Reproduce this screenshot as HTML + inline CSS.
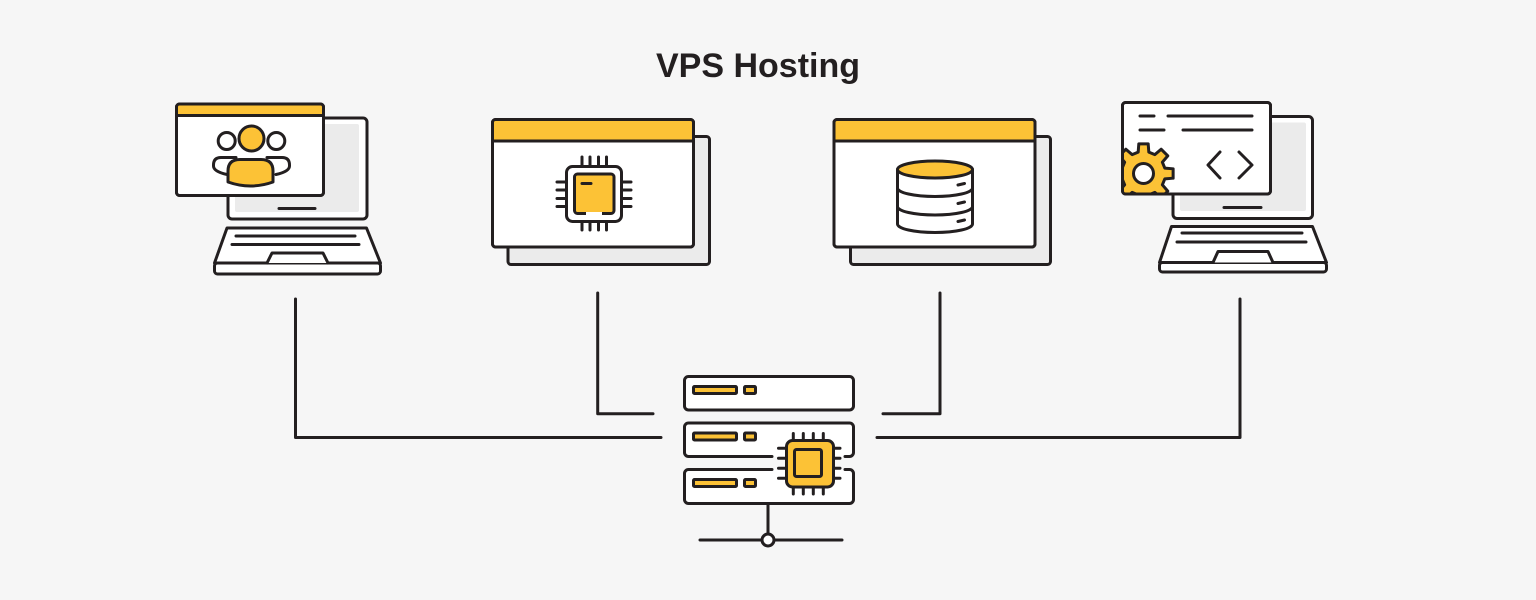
<!DOCTYPE html>
<html>
<head>
<meta charset="utf-8">
<style>
  html,body{margin:0;padding:0;background:#f6f6f6;}
  svg{display:block;}
</style>
</head>
<body>
<svg width="1536" height="600" viewBox="0 0 1536 600" xmlns="http://www.w3.org/2000/svg">
  <defs>
    <clipPath id="w4clip"><rect x="1122.5" y="102.5" width="148" height="91.5" rx="3"/></clipPath>
  </defs>
  <rect x="0" y="0" width="1536" height="600" fill="#f6f6f6"/>

  <text x="758" y="77" text-anchor="middle" font-family="Liberation Sans, Arial, sans-serif" font-weight="bold" font-size="34" fill="#231f20">VPS Hosting</text>

  <g fill="none" stroke="#231f20" stroke-width="3" stroke-linecap="round" stroke-linejoin="round">
    <!-- connectors -->
    <path d="M295.5,299 V437.5 H661"/>
    <path d="M597.7,293 V413.7 H653"/>
    <path d="M883,413.7 H940 V293"/>
    <path d="M877,437.5 H1240 V299"/>
  </g>

  <!-- ===== Laptop 1 ===== -->
  <g stroke="#231f20" stroke-width="3" stroke-linecap="round" stroke-linejoin="round">
    <rect x="228" y="118" width="139" height="101" rx="4" fill="#fff"/>
    <rect x="235" y="124" width="124" height="88" rx="2" fill="#ebebeb" stroke="none"/>
    <line x1="279" y1="208.5" x2="315" y2="208.5"/>
    <path d="M227,228 L366.5,228 L380.5,263 L214.5,263 Z" fill="#fff"/>
    <rect x="214.5" y="263" width="166" height="11" rx="3" fill="#fff"/>
    <line x1="236" y1="236" x2="355" y2="236"/>
    <line x1="232" y1="244.5" x2="359" y2="244.5"/>
    <path d="M267,263 L272,253 L323,253 L328,263" fill="#fff"/>
    <!-- window -->
    <rect x="176.5" y="104" width="147" height="91.5" rx="3" fill="#fff"/>
    <path d="M178,105.5 H322 V115.5 H178 Z" fill="#fcc236" stroke="none"/>
    <line x1="176.5" y1="115.5" x2="323.5" y2="115.5"/>
    <rect x="176.5" y="104" width="147" height="91.5" rx="3" fill="none"/>
    <!-- people -->
    <path d="M236,157.5 H221 Q213.5,157.5 213.5,165 V166 Q213.5,171.5 227,174.5" fill="#fff"/>
    <path d="M267,157.5 H282 Q289.5,157.5 289.5,165 V166 Q289.5,171.5 276,174.5" fill="#fff"/>
    <circle cx="226.7" cy="141" r="8.5" fill="#fff"/>
    <circle cx="276.3" cy="141" r="8.5" fill="#fff"/>
    <circle cx="251.5" cy="138.5" r="12.5" fill="#fcc236"/>
    <path d="M228,182 V171 Q228,159.5 240,159.5 H261 Q273,159.5 273,171 V182 Q250.5,190 228,182 Z" fill="#fcc236"/>
  </g>

  <!-- ===== Window 2 (chip) ===== -->
  <g stroke="#231f20" stroke-width="3" stroke-linecap="round" stroke-linejoin="round">
    <rect x="508" y="136.5" width="201.5" height="128" rx="3" fill="#ebebeb"/>
    <rect x="492.5" y="119.5" width="201" height="127.5" rx="3" fill="#fff"/>
    <path d="M494,121 H692 V141 H494 Z" fill="#fcc236" stroke="none"/>
    <line x1="492.5" y1="141" x2="693.5" y2="141"/>
    <rect x="492.5" y="119.5" width="201" height="127.5" rx="3" fill="none"/>
    <!-- pins -->
    <path d="M582,157 V165 M590,157 V165 M598.5,157 V165 M606.5,157 V165
             M582,223 V230 M590,223 V230 M598.5,223 V230 M606.5,223 V230
             M557,182 H565 M557,190 H565 M557,198.5 H565 M557,206.5 H565
             M623,182 H631 M623,190 H631 M623,198.5 H631 M623,206.5 H631" fill="none"/>
    <rect x="566.5" y="166.5" width="55" height="55" rx="6" fill="#fff"/>
    <rect x="574.5" y="174" width="39.5" height="39.5" rx="3" fill="#fcc236"/>
    <line x1="586" y1="213.5" x2="602" y2="213.5" stroke="#fff" stroke-linecap="butt"/>
    <line x1="582" y1="183.5" x2="591" y2="183.5"/>
  </g>

  <!-- ===== Window 3 (database) ===== -->
  <g stroke="#231f20" stroke-width="3" stroke-linecap="round" stroke-linejoin="round">
    <rect x="850.5" y="136.5" width="200" height="128" rx="3" fill="#ebebeb"/>
    <rect x="834" y="119.5" width="201" height="127.5" rx="3" fill="#fff"/>
    <path d="M835.5,121 H1033.5 V141 H835.5 Z" fill="#fcc236" stroke="none"/>
    <line x1="834" y1="141" x2="1035" y2="141"/>
    <rect x="834" y="119.5" width="201" height="127.5" rx="3" fill="none"/>
    <path d="M897.5,169.5 V224 A37.5,8.5 0 0 0 972.5,224 V169.5 Z" fill="#fff"/>
    <path d="M897.5,188 A37.5,8.5 0 0 0 972.5,188" fill="none"/>
    <path d="M897.5,206.5 A37.5,8.5 0 0 0 972.5,206.5" fill="none"/>
    <ellipse cx="935" cy="169.5" rx="37.5" ry="8.5" fill="#fcc236"/>
    <line x1="958" y1="185" x2="964.5" y2="183.5"/>
    <line x1="958" y1="203.5" x2="964.5" y2="202"/>
    <line x1="958" y1="221.5" x2="964.5" y2="220"/>
  </g>

  <!-- ===== Laptop 4 ===== -->
  <g stroke="#231f20" stroke-width="3" stroke-linecap="round" stroke-linejoin="round">
    <rect x="1173" y="116.5" width="139.5" height="102" rx="4" fill="#fff"/>
    <rect x="1180" y="122.5" width="126" height="88.5" rx="2" fill="#ebebeb" stroke="none"/>
    <line x1="1224" y1="207.5" x2="1261" y2="207.5"/>
    <path d="M1171.5,226.5 L1312.5,226.5 L1326.5,262.5 L1159.5,262.5 Z" fill="#fff"/>
    <rect x="1159.5" y="262.5" width="167" height="9.5" rx="3" fill="#fff"/>
    <line x1="1182" y1="233" x2="1302" y2="233"/>
    <line x1="1177" y1="242" x2="1306" y2="242"/>
    <path d="M1213,262.5 L1218,251.5 L1268,251.5 L1273,262.5" fill="#fff"/>
    <!-- window -->
    <rect x="1122.5" y="102.5" width="148" height="91.5" rx="3" fill="#fff"/>
    <g clip-path="url(#w4clip)">
      <polygon fill="#fcc236" points="1164.85,168.18 1173.13,168.81 1173.13,178.19 1164.85,178.82 1162.36,184.83 1167.77,191.13 1161.13,197.77 1154.83,192.36 1148.82,194.85 1148.19,203.13 1138.81,203.13 1138.18,194.85 1132.17,192.36 1125.87,197.77 1119.23,191.13 1124.64,184.83 1122.15,178.82 1113.87,178.19 1113.87,168.81 1122.15,168.18 1124.64,162.17 1119.23,155.87 1125.87,149.23 1132.17,154.64 1138.18,152.15 1138.81,143.87 1148.19,143.87 1148.82,152.15 1154.83,154.64 1161.13,149.23 1167.77,155.87 1162.36,162.17"/>
      <circle cx="1143.5" cy="173.5" r="10" fill="#fff"/>
    </g>
    <rect x="1122.5" y="102.5" width="148" height="91.5" rx="3" fill="none"/>
    <line x1="1140" y1="116" x2="1154" y2="116"/>
    <line x1="1168" y1="116" x2="1252" y2="116"/>
    <line x1="1140" y1="130" x2="1164" y2="130"/>
    <line x1="1183" y1="130" x2="1252" y2="130"/>
    <polyline points="1220,152 1208,165 1220,178" fill="none"/>
    <polyline points="1239,152 1252,165 1239,178" fill="none"/>
  </g>

  <!-- ===== Server ===== -->
  <g stroke="#231f20" stroke-width="3" stroke-linecap="round" stroke-linejoin="round">
    <rect x="684.5" y="376.5" width="169" height="33.5" rx="4" fill="#fff"/>
    <rect x="684.5" y="423" width="169" height="33.5" rx="4" fill="#fff" stroke="none"/>
    <path d="M772,456.5 H688.5 A4,4 0 0 1 684.5,452.5 V427 A4,4 0 0 1 688.5,423 H849.5 A4,4 0 0 1 853.5,427 V452.5 A4,4 0 0 1 849.5,456.5 H845" fill="none"/>
    <rect x="684.5" y="469.5" width="169" height="34" rx="4" fill="#fff" stroke="none"/>
    <path d="M772,469.5 H688.5 A4,4 0 0 0 684.5,473.5 V499.5 A4,4 0 0 0 688.5,503.5 H849.5 A4,4 0 0 0 853.5,499.5 V473.5 A4,4 0 0 0 849.5,469.5 H845" fill="none"/>
    <!-- bars -->
    <rect x="693.5" y="386.5" width="43" height="7" rx="1" fill="#fcc236"/>
    <rect x="744.5" y="386.5" width="11" height="7" rx="1" fill="#fcc236"/>
    <rect x="693.5" y="433" width="43" height="7" rx="1" fill="#fcc236"/>
    <rect x="744.5" y="433" width="11" height="7" rx="1" fill="#fcc236"/>
    <rect x="693.5" y="479.5" width="43" height="7" rx="1" fill="#fcc236"/>
    <rect x="744.5" y="479.5" width="11" height="7" rx="1" fill="#fcc236"/>
    <!-- chip -->
    <path d="M793.3,433.5 V440 M803.3,433.5 V440 M813.3,433.5 V440 M823.3,433.5 V440
             M793.3,487 V494 M803.3,487 V494 M813.3,487 V494 M823.3,487 V494
             M778.5,448.3 H786 M778.5,458.3 H786 M778.5,468.3 H786 M778.5,478.3 H786
             M834,448.3 H840 M834,458.3 H840 M834,468.3 H840 M834,478.3 H840" fill="none"/>
    <rect x="786.5" y="440.5" width="47" height="46.5" rx="6" fill="#fcc236"/>
    <rect x="794.5" y="449.5" width="27" height="27" rx="2" fill="#fcc236"/>
    <!-- stand -->
    <line x1="768" y1="503.5" x2="768" y2="534"/>
    <line x1="700" y1="540" x2="762" y2="540"/>
    <line x1="774" y1="540" x2="842" y2="540"/>
    <circle cx="768" cy="540" r="6" fill="#fff"/>
  </g>
</svg>
</body>
</html>
